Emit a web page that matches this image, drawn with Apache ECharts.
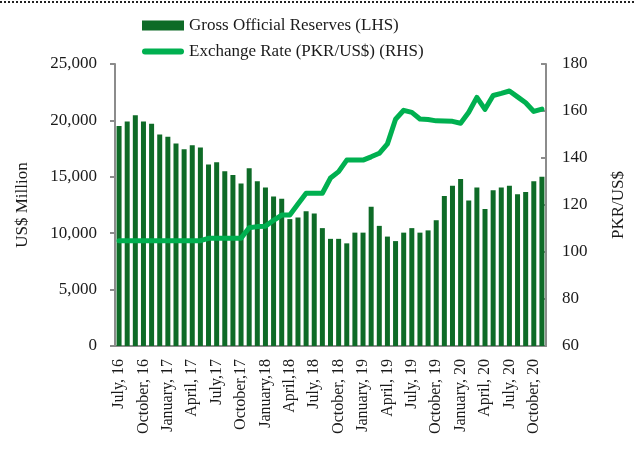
<!DOCTYPE html>
<html>
<head>
<meta charset="utf-8">
<script src="https://cdn.jsdelivr.net/npm/echarts@6/dist/echarts.min.js"></script>
<style>
  html, body { margin: 0; padding: 0; background: #fff; }
  #chart { width: 635px; height: 459px; }
</style>
</head>
<body>
<div id="chart"></div>
<script>
// Monthly observations, July 2016 to November 2020
const months = [
  'July, 16', 'August, 16', 'September, 16', 'October, 16', 'November, 16', 'December, 16',
  'January, 17', 'February, 17', 'March, 17', 'April, 17', 'May, 17', 'June, 17',
  'July,17', 'August,17', 'September,17', 'October,17', 'November,17', 'December,17',
  'January,18', 'February,18', 'March,18', 'April,18', 'May,18', 'June,18',
  'July, 18', 'August, 18', 'September, 18', 'October, 18', 'November, 18', 'December, 18',
  'January, 19', 'February, 19', 'March, 19', 'April, 19', 'May, 19', 'June, 19',
  'July, 19', 'August, 19', 'September, 19', 'October, 19', 'November, 19', 'December, 19',
  'January, 20', 'February, 20', 'March, 20', 'April, 20', 'May, 20', 'June, 20',
  'July, 20', 'August, 20', 'September, 20', 'October, 20', 'November, 20'
];

// Gross official reserves, US$ million (left axis)
const grossReserves = [
  19500, 19900, 20450, 19900, 19700, 18750,
  18550, 17950, 17450, 17800, 17600, 16100,
  16300, 15500, 15150, 14400, 15750, 14600,
  14050, 13250, 13050, 11250, 11400, 11950,
  11750, 10450, 9500, 9500, 9100, 10050,
  10050, 12350, 10650, 9700, 9300, 10050,
  10450, 10050, 10250, 11150, 13300, 14200,
  14800, 12900, 14050, 12150, 13800, 14050,
  14200, 13450, 13650, 14600, 15000
];

// Exchange rate, PKR per US$ (right axis)
const exchangeRate = [
  104.8, 104.8, 104.8, 104.8, 104.8, 104.8,
  104.8, 104.8, 104.8, 104.8, 104.8, 105.8,
  105.8, 105.8, 105.8, 105.9, 110.3, 110.8,
  111.0, 113.5, 115.7, 115.7, 120.4, 125.0,
  125.0, 125.0, 131.5, 134.2, 139.1, 139.1,
  139.1, 140.5, 142.0, 146.0, 156.5, 160.3,
  159.4, 156.6, 156.4, 155.8, 155.7, 155.6,
  154.8, 159.5, 165.8, 160.7, 166.6, 167.5,
  168.5, 166.0, 163.5, 159.8, 160.8
];

const leftTicks = { min: 0, max: 25000, step: 5000 };
const rightTicks = { min: 60, max: 180, step: 20 };

const FONT = "'Liberation Serif', 'DejaVu Serif', serif";
const TEXT = '#1a1a1a';
const AXIS = '#8c8c8c';
const BAR_COLOR = '#0e6b27';
const LINE_COLOR = '#00b050';

const chart = echarts.init(document.getElementById('chart'), null, { renderer: 'canvas' });

chart.setOption({
  animation: false,
  backgroundColor: '#ffffff',
  textStyle: { fontFamily: FONT, color: TEXT },
  graphic: [{
    type: 'line',
    shape: { x1: 0, y1: 2, x2: 635, y2: 2 },
    style: { stroke: '#222', lineWidth: 2, lineDash: [2, 2] }
  }],
  legend: {
    orient: 'vertical',
    left: 137,
    top: 12,
    itemGap: 9,
    itemWidth: 42,
    itemHeight: 10,
    symbolKeepAspect: true,
    textStyle: { fontFamily: FONT, fontSize: 17, color: TEXT },
    data: [
      { name: 'Gross Official Reserves (LHS)', icon: 'rect' },
      {
        name: 'Exchange Rate (PKR/US$) (RHS)',
        icon: 'path://M3,0 H39 A3,3 0 0 1 39,6 H3 A3,3 0 0 1 3,0 Z',
        itemStyle: { color: LINE_COLOR }
      }
    ]
  },
  grid: { left: 115, right: 82, top: 64, bottom: 113, containLabel: false },
  xAxis: {
    type: 'category',
    data: months,
    boundaryGap: true,
    axisLine: { lineStyle: { color: AXIS, width: 2 } },
    axisTick: { show: false },
    axisLabel: {
      interval: 2,
      rotate: 90,
      margin: 13,
      fontFamily: FONT,
      fontSize: 16,
      color: TEXT
    }
  },
  yAxis: [
    {
      type: 'value',
      min: leftTicks.min,
      max: leftTicks.max,
      interval: leftTicks.step,
      name: 'US$ Million',
      nameLocation: 'middle',
      nameRotate: 90,
      nameGap: 84,
      nameTextStyle: { fontFamily: FONT, fontSize: 17, color: TEXT },
      axisLine: { show: true, lineStyle: { color: AXIS, width: 2 } },
      axisTick: { show: true, length: 5, lineStyle: { color: AXIS, width: 2 } },
      splitLine: { show: false },
      axisLabel: {
        margin: 18,
        fontFamily: FONT,
        fontSize: 17,
        color: TEXT,
        formatter: v => v.toLocaleString('en-US')
      }
    },
    {
      type: 'value',
      min: rightTicks.min,
      max: rightTicks.max,
      interval: rightTicks.step,
      name: 'PKR/US$',
      nameLocation: 'middle',
      nameRotate: 90,
      nameGap: 64,
      nameTextStyle: { fontFamily: FONT, fontSize: 17, color: TEXT },
      axisLine: { show: true, lineStyle: { color: AXIS, width: 2 } },
      axisTick: { show: true, inside: true, length: 5, lineStyle: { color: AXIS, width: 2 } },
      splitLine: { show: false },
      axisLabel: { margin: 16, fontFamily: FONT, fontSize: 17, color: TEXT }
    }
  ],
  series: [
    {
      name: 'Gross Official Reserves (LHS)',
      type: 'bar',
      yAxisIndex: 0,
      data: grossReserves,
      barWidth: 5,
      itemStyle: { color: BAR_COLOR }
    },
    {
      name: 'Exchange Rate (PKR/US$) (RHS)',
      type: 'line',
      yAxisIndex: 1,
      data: exchangeRate,
      showSymbol: false,
      symbol: 'none',
      lineStyle: { color: LINE_COLOR, width: 5, cap: 'round', join: 'round' },
      itemStyle: { color: LINE_COLOR },
      z: 3
    }
  ]
});
</script>
</body>
</html>
